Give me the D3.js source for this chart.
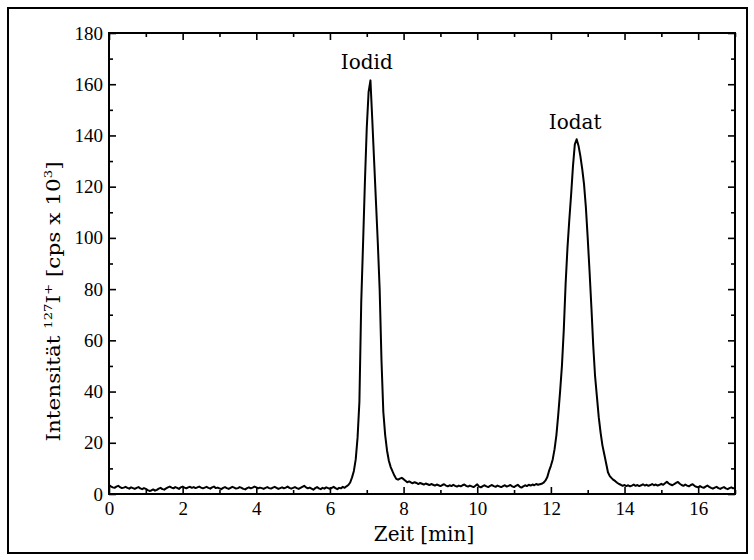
<!DOCTYPE html>
<html>
<head>
<meta charset="utf-8">
<script src="https://cdn.jsdelivr.net/npm/d3@7"></script>
<style>
  html, body { margin: 0; padding: 0; background: #fff; }
  svg { display: block; }
  text { font-family: "Liberation Serif", "Times New Roman", serif; fill: #000; }
  text.title { font-family: "DejaVu Serif", "Liberation Serif", serif; }
</style>
</head>
<body>
<svg id="chart" width="754" height="560"></svg>
<script>
// Chromatogram sampled every 0.05 min, from 0 to 17 min
const timeStep = 0.05;
const intensity = [
  // 0 - 1 min
  3.5,3.0,2.6,2.4,2.9,3.2,2.7,2.3,2.5,2.8,2.4,2.1,2.6,2.3,2.0,2.4,2.7,2.2,1.9,2.3,
  // 1 - 2 min
  2.0,1.5,1.2,1.4,1.8,1.3,1.6,2.1,2.4,1.9,1.7,2.2,2.6,2.9,2.5,2.2,2.7,2.4,2.0,2.6,
  // 2 - 3 min
  2.9,2.5,2.2,2.6,2.8,2.4,2.7,2.3,2.6,2.9,2.5,2.2,2.5,2.8,2.4,2.1,2.6,2.9,2.3,2.5,
  // 3 - 4 min
  2.2,1.9,2.4,2.7,2.3,2.0,2.4,2.8,2.5,2.1,2.3,2.7,2.4,2.0,1.8,2.3,2.6,2.2,2.5,2.9,
  // 4 - 5 min
  2.6,2.2,2.5,2.3,2.0,2.4,2.7,2.3,2.1,2.5,2.8,2.4,2.0,2.3,2.6,2.2,2.5,2.9,2.4,2.1,
  // 5 - 6 min
  2.4,2.7,2.3,2.0,2.4,2.8,3.2,2.6,2.2,2.5,2.1,1.7,2.3,2.7,2.2,1.9,2.4,2.1,2.6,2.3,
  // 6 - 7 min (Iodid rising edge)
  2.0,2.4,2.8,2.3,1.9,2.4,2.2,2.8,2.4,3.0,3.5,4.5,6.5,9.0,13.5,22,36,75,98,122,
  // 7 - 8 min
  143,157,161.5,146,130,114,98,80,52,32,23,17,13,10.5,8.8,7.2,5.9,5.6,6.0,6.3,
  // 8 - 9 min
  5.8,5.2,4.6,4.9,4.5,4.2,4.6,4.3,3.9,4.3,4.0,3.7,4.1,3.8,3.5,3.9,3.6,3.3,3.7,3.4,
  // 9 - 10 min
  3.1,3.5,3.8,3.3,3.0,3.4,3.1,3.6,3.2,2.9,3.3,3.0,3.4,3.7,3.2,2.9,3.3,3.0,2.7,3.2,
  // 10 - 11 min
  3.8,2.9,2.6,3.1,3.4,3.0,2.7,3.2,3.5,3.1,2.8,3.3,3.0,2.7,3.1,3.4,2.9,3.2,3.5,3.0,
  // 11 - 12 min (Iodat rising edge)
  2.7,3.2,3.6,2.9,2.5,3.0,3.4,3.1,3.6,3.3,3.7,3.4,3.9,3.6,3.8,4.0,4.4,5.2,6.5,9.0,
  // 12 - 13 min
  11,13.5,17.5,23,31,40,50,64,82,96,107,117,128,136.5,138.5,136,132,127,121,112,
  // 13 - 14 min
  100,87,73,58,46,38,30,24,19,15.5,12,8.5,7.0,6.2,5.5,5.0,4.4,3.9,3.6,3.2,
  // 14 - 15 min
  3.5,3.1,3.4,3.0,3.3,3.7,3.2,3.5,3.1,3.4,3.8,3.3,3.6,3.2,3.5,3.9,3.4,3.7,3.3,3.6,
  // 15 - 16 min
  4.0,3.6,4.2,4.8,4.1,3.7,3.4,3.9,4.3,4.7,4.0,3.5,3.2,3.7,3.3,3.0,3.5,3.8,3.2,2.8,
  // 16 - 17 min
  2.6,3.1,2.7,2.4,2.9,3.3,2.8,2.4,2.1,2.5,2.8,2.3,2.0,2.4,2.7,2.2,1.9,2.3,2.6,2.2,
  2.4
];

// Peak annotations
const peakNames = ["Iodid", "Iodat"];
const peakTimes = [7.0, 12.66];
const peakLabelValues = [166, 142.5];

// Axis ticks
const xMajorTicks = [0, 2, 4, 6, 8, 10, 12, 14, 16];
const xMinorTicks = [1, 3, 5, 7, 9, 11, 13, 15, 17];
const yMajorTicks = [0, 20, 40, 60, 80, 100, 120, 140, 160, 180];
const yMinorTicks = [10, 30, 50, 70, 90, 110, 130, 150, 170];

const xTitle = "Zeit [min]";

const svg = d3.select("#chart");

// outer frame
svg.append("rect")
  .attr("x", 8).attr("y", 8)
  .attr("width", 739).attr("height", 545)
  .attr("fill", "none").attr("stroke", "#000").attr("stroke-width", 2);

const plot = { left: 109, right: 735, top: 33, bottom: 494 };

const x = d3.scaleLinear().domain([0, 17]).range([plot.left, plot.right]);
const y = d3.scaleLinear().domain([0, 180]).range([plot.bottom, plot.top]);

function styleAxis(g) {
  g.select(".domain").remove();
  g.selectAll(".tick line").attr("stroke", "#000").attr("stroke-width", 1.6);
  g.selectAll(".tick text")
    .style("font-family", "'Liberation Serif', 'Times New Roman', serif")
    .style("font-size", "19px")
    .attr("fill", "#000");
}

// bottom axis with labels
svg.append("g")
  .attr("transform", `translate(0,${plot.bottom})`)
  .call(d3.axisBottom(x).tickValues(xMajorTicks).tickSizeInner(-7).tickSizeOuter(0).tickPadding(8).tickFormat(d3.format("d")))
  .call(styleAxis);
svg.append("g")
  .attr("transform", `translate(0,${plot.bottom})`)
  .call(d3.axisBottom(x).tickValues(xMinorTicks).tickSizeInner(-4).tickSizeOuter(0).tickFormat(""))
  .call(styleAxis);

// top axis, ticks only
svg.append("g")
  .attr("transform", `translate(0,${plot.top})`)
  .call(d3.axisTop(x).tickValues(xMajorTicks).tickSizeInner(-7).tickSizeOuter(0).tickFormat(""))
  .call(styleAxis);
svg.append("g")
  .attr("transform", `translate(0,${plot.top})`)
  .call(d3.axisTop(x).tickValues(xMinorTicks).tickSizeInner(-4).tickSizeOuter(0).tickFormat(""))
  .call(styleAxis);

// left axis with labels
svg.append("g")
  .attr("transform", `translate(${plot.left},0)`)
  .call(d3.axisLeft(y).tickValues(yMajorTicks).tickSizeInner(-7).tickSizeOuter(0).tickPadding(6).tickFormat(d3.format("d")))
  .call(styleAxis);
svg.append("g")
  .attr("transform", `translate(${plot.left},0)`)
  .call(d3.axisLeft(y).tickValues(yMinorTicks).tickSizeInner(-4).tickSizeOuter(0).tickFormat(""))
  .call(styleAxis);

// right axis, ticks only
svg.append("g")
  .attr("transform", `translate(${plot.right},0)`)
  .call(d3.axisRight(y).tickValues(yMajorTicks).tickSizeInner(-7).tickSizeOuter(0).tickFormat(""))
  .call(styleAxis);
svg.append("g")
  .attr("transform", `translate(${plot.right},0)`)
  .call(d3.axisRight(y).tickValues(yMinorTicks).tickSizeInner(-4).tickSizeOuter(0).tickFormat(""))
  .call(styleAxis);

// plot box
svg.append("rect")
  .attr("x", plot.left).attr("y", plot.top)
  .attr("width", plot.right - plot.left).attr("height", plot.bottom - plot.top)
  .attr("fill", "none").attr("stroke", "#000").attr("stroke-width", 2);

// signal trace
const line = d3.line()
  .x((d, i) => x(i * timeStep))
  .y(d => y(d));

svg.append("path")
  .datum(intensity)
  .attr("d", line)
  .attr("fill", "none")
  .attr("stroke", "#000")
  .attr("stroke-width", 2)
  .attr("stroke-linejoin", "round");

// peak labels
svg.selectAll("text.peak")
  .data(peakNames)
  .join("text")
  .attr("class", "peak title")
  .attr("x", (d, i) => x(peakTimes[i]))
  .attr("y", (d, i) => y(peakLabelValues[i]))
  .attr("text-anchor", "middle")
  .style("font-size", "20px")
  .text(d => d);

// x axis title
svg.append("text")
  .attr("class", "title")
  .attr("x", (plot.left + plot.right) / 2 + 2)
  .attr("y", 541)
  .attr("text-anchor", "middle")
  .style("font-size", "20px")
  .text(xTitle);

// y axis title with superscripts, stretched along its length
const yTitle = svg.append("text")
  .attr("class", "title")
  .attr("transform", `translate(60,${(plot.top + plot.bottom) / 2 + 38}) rotate(-90) scale(1.2,1)`)
  .attr("text-anchor", "middle")
  .style("font-size", "18px");
yTitle.append("tspan").text("Intensität ");
yTitle.append("tspan").attr("dy", -8).style("font-size", "11px").text("127");
yTitle.append("tspan").attr("dy", 8).text("I");
yTitle.append("tspan").attr("dy", -8).style("font-size", "11px").text("+");
yTitle.append("tspan").attr("dy", 8).text(" [cps x 10");
yTitle.append("tspan").attr("dy", -8).style("font-size", "11px").text("3");
yTitle.append("tspan").attr("dy", 8).text("]");
</script>
</body>
</html>
